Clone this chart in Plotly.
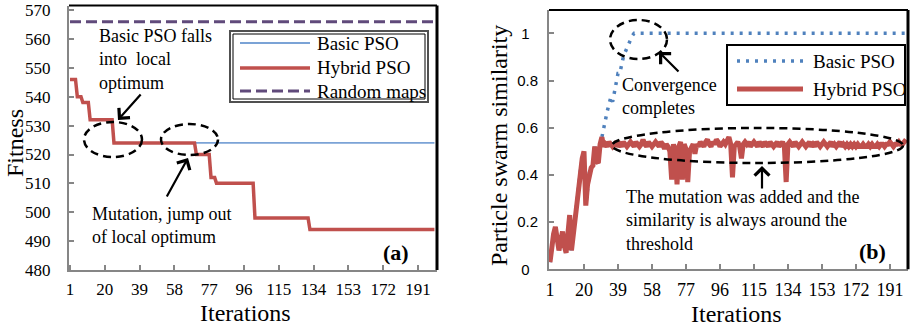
import plotly.graph_objects as go

W, H = 910, 328

# ---------------- data ----------------
iterations = list(range(1, 201))
x_tick_vals = [1, 20, 39, 58, 77, 96, 115, 134, 153, 172, 191]
x_tick_text = [str(v) for v in x_tick_vals]

# (a) fitness: step levels and the last iteration at which each level holds
hybrid_fit_levels = [546, 540, 538, 532, 524, 520, 512, 510, 498, 494]
hybrid_fit_last_iter = [4, 7, 11, 24, 69, 77, 80, 101, 131, 200]
basic_fit_levels = [546, 540, 538, 532, 524]
basic_fit_last_iter = [4, 7, 11, 24, 200]
random_fit_levels = [566]
random_fit_last_iter = [200]
fit_ticks = [480, 490, 500, 510, 520, 530, 540, 550, 560, 570]

# (b) particle swarm similarity
hybrid_sim = [
    0.03, 0.10, 0.15, 0.18, 0.12, 0.08, 0.12, 0.16, 0.10, 0.07,
    0.15, 0.23, 0.08, 0.15, 0.22, 0.30, 0.36, 0.42, 0.47, 0.50,
    0.27, 0.36, 0.41, 0.43, 0.44, 0.52, 0.46, 0.45, 0.53, 0.56,
    0.52, 0.53, 0.52, 0.54, 0.53, 0.52, 0.53, 0.54, 0.52, 0.53,
    0.52, 0.54, 0.53, 0.52, 0.53, 0.54, 0.53, 0.52, 0.54, 0.53,
    0.52, 0.53, 0.55, 0.53, 0.52, 0.54, 0.53, 0.52, 0.53, 0.54,
    0.53, 0.52, 0.54, 0.53, 0.51, 0.53, 0.52, 0.50, 0.38, 0.53,
    0.50, 0.36, 0.52, 0.54, 0.38, 0.53, 0.51, 0.37, 0.50, 0.52,
    0.53, 0.49, 0.53, 0.52, 0.54, 0.53, 0.52, 0.54, 0.55, 0.53,
    0.52, 0.54, 0.53, 0.55, 0.54, 0.52, 0.53, 0.54, 0.53, 0.55,
    0.56, 0.53, 0.39, 0.52, 0.53, 0.54, 0.52, 0.47, 0.53, 0.54,
    0.53, 0.54, 0.52, 0.53, 0.54, 0.53, 0.52, 0.54, 0.53, 0.52,
    0.54, 0.53, 0.52, 0.54, 0.53, 0.52, 0.53, 0.54, 0.52, 0.53,
    0.54, 0.52, 0.37, 0.53, 0.54, 0.53, 0.52, 0.54, 0.53, 0.52,
    0.53, 0.54, 0.53, 0.52, 0.53, 0.54, 0.52, 0.53, 0.52, 0.54,
    0.53, 0.52, 0.53, 0.54, 0.53, 0.52, 0.53, 0.54, 0.52, 0.53,
    0.52, 0.53, 0.54, 0.52, 0.53, 0.52, 0.53, 0.52, 0.53, 0.52,
    0.53, 0.52, 0.53, 0.52, 0.52, 0.53, 0.52, 0.52, 0.53, 0.52,
    0.53, 0.52, 0.52, 0.53, 0.52, 0.53, 0.53, 0.52, 0.53, 0.53,
    0.54, 0.53, 0.52, 0.53, 0.53, 0.54, 0.53, 0.53, 0.54, 0.55,
]
# basic PSO coincides with hybrid up to iteration 29, then rises (iters 30-47) and stays at 1
basic_sim_rise = [0.56, 0.60, 0.64, 0.67, 0.70, 0.73, 0.71, 0.75, 0.78,
                  0.83, 0.83, 0.87, 0.90, 0.92, 0.94, 0.96, 0.98, 0.99]
basic_sim_plateau = 1.0
basic_sim = hybrid_sim[:29] + basic_sim_rise + [basic_sim_plateau] * (200 - 29 - len(basic_sim_rise))
sim_ticks = [0, 0.2, 0.4, 0.6, 0.8, 1]
sim_tick_text = ["0\u00a0\u00a0", "0.2", "0.4", "0.6", "0.8", "1\u00a0\u00a0"]


def expand(levels, last_iters):
    out, start = [], 1
    for lv, end in zip(levels, last_iters):
        out += [lv] * (end - start + 1)
        start = end + 1
    return out


hybrid_fit = expand(hybrid_fit_levels, hybrid_fit_last_iter)
basic_fit = expand(basic_fit_levels, basic_fit_last_iter)
random_fit = expand(random_fit_levels, random_fit_last_iter)

# ---------------- styles ----------------
SERIF = "Liberation Serif"
SANS = "Liberation Sans"
C_BASIC_A = "#7BA3D6"
C_HYB = "#C0504D"
C_RAND = "#604A7B"
C_BASIC_B = "#4F81BD"
AXIS_GRAY = "#868686"


def px(x):
    return x / W


def py(y):
    return 1 - y / H


fig = go.Figure()

styles_a = {
    "Basic PSO": dict(color=C_BASIC_A, width=1.8),
    "Hybrid PSO": dict(color=C_HYB, width=3.5),
    "Random maps": dict(color=C_RAND, width=3, dash="11px,5px"),
}
styles_b = {
    "Basic PSO": dict(color=C_BASIC_B, width=3.5, dash="3px,6px"),
    "Hybrid PSO": dict(color=C_HYB, width=5),
}

for name, ys in [("Basic PSO", basic_fit), ("Hybrid PSO", hybrid_fit), ("Random maps", random_fit)]:
    fig.add_trace(go.Scatter(x=iterations, y=ys, mode="lines", name=name,
                             line=styles_a[name], xaxis="x", yaxis="y", showlegend=False))
for name, ys in [("Basic PSO", basic_sim), ("Hybrid PSO", hybrid_sim)]:
    fig.add_trace(go.Scatter(x=iterations, y=ys, mode="lines", name=name,
                             line=styles_b[name], xaxis="x2", yaxis="y2", showlegend=False))

# plot-area pixel boxes
A = dict(l=69, r=437, t=5.5, b=270)
B = dict(l=549, r=908, t=10, b=269.3)

common_axis = dict(showgrid=False, zeroline=False, showline=True, linecolor=AXIS_GRAY,
                   linewidth=2, ticks="inside", ticklen=5, tickwidth=1.5, tickcolor=AXIS_GRAY,
                   automargin=False)

fig.update_layout(
    template="none",
    width=W, height=H, margin=dict(l=0, r=0, t=0, b=0, autoexpand=False),
    paper_bgcolor="white", plot_bgcolor="white",
    xaxis=dict(domain=[px(A["l"]), px(A["r"])], range=[0.45, 201.4], anchor="y",
               tickmode="array", tickvals=x_tick_vals, ticktext=x_tick_text,
               tickfont=dict(family=SERIF, size=17, color="black"), ticklabelstandoff=3,
               **common_axis),
    yaxis=dict(domain=[py(A["b"]), py(A["t"])], range=[480, 571.6], anchor="x",
               tickmode="array", tickvals=fit_ticks, ticktext=[str(v) for v in fit_ticks],
               tickfont=dict(family=SERIF, size=17, color="black"), ticklabelstandoff=13,
               **common_axis),
    xaxis2=dict(domain=[px(B["l"]), px(B["r"])], range=[0.44, 201.1], anchor="y2",
                tickmode="array", tickvals=x_tick_vals, ticktext=x_tick_text,
                tickfont=dict(family=SERIF, size=18, color="black"), ticklabelstandoff=3,
                **common_axis),
    yaxis2=dict(domain=[py(B["b"]), py(B["t"])], range=[0, 1.099], anchor="x2",
                tickmode="array", tickvals=sim_ticks, ticktext=sim_tick_text,
                tickfont=dict(family=SANS, size=15, color="black"), ticklabelstandoff=6,
                **common_axis),
)

shapes = []
# black top / right borders of both plot areas
for box in (A, B):
    shapes.append(dict(type="line", xref="paper", yref="paper", x0=px(box["l"]), x1=px(box["r"]),
                       y0=py(box["t"]), y1=py(box["t"]), line=dict(color="black", width=2)))
    shapes.append(dict(type="line", xref="paper", yref="paper", x0=px(box["r"]), x1=px(box["r"]),
                       y0=py(box["b"]), y1=py(box["t"]), line=dict(color="black", width=3)))

# dashed ellipses (pixel boxes)
ellipses = [(84, 122, 142, 157), (161, 124, 218, 155), (610, 20, 667, 59), (612, 128, 903, 163)]
for x0, y0, x1, y1 in ellipses:
    shapes.append(dict(type="circle", xref="paper", yref="paper", x0=px(x0), x1=px(x1),
                       y0=py(y1), y1=py(y0), line=dict(color="black", width=2.5, dash="8px,5px")))

# legend boxes
shapes.append(dict(type="rect", xref="paper", yref="paper", x0=px(230), x1=px(428), y0=py(102), y1=py(31),
                   line=dict(color="#505050", width=2), fillcolor="white"))
shapes.append(dict(type="rect", xref="paper", yref="paper", x0=px(233), x1=px(425), y0=py(99), y1=py(34),
                   line=dict(color="black", width=1)))
shapes.append(dict(type="rect", xref="paper", yref="paper", x0=px(727), x1=px(905), y0=py(105), y1=py(45),
                   line=dict(color="black", width=2), fillcolor="white"))

annotations = []


def text_at(x, y, text, size, xanchor="center", yanchor="middle", **kw):
    annotations.append(dict(x=px(x), y=py(y), xref="paper", yref="paper", text=text, showarrow=False,
                            xanchor=xanchor, yanchor=yanchor,
                            font=dict(family=SERIF, size=size, color="black"), **kw))


legend_a_rows = [("Basic PSO", 43), ("Hybrid PSO", 68), ("Random maps", 91)]
for name, yy in legend_a_rows:
    st = styles_a[name]
    shapes.append(dict(type="line", xref="paper", yref="paper", x0=px(240), x1=px(310), y0=py(yy), y1=py(yy),
                       line=dict(color=st["color"], width=st["width"], dash=st.get("dash", "solid"))))
    text_at(315, yy, name, 19, xanchor="left")
legend_b_rows = [("Basic PSO", 61), ("Hybrid PSO", 89)]
for name, yy in legend_b_rows:
    st = styles_b[name]
    shapes.append(dict(type="line", xref="paper", yref="paper", x0=px(737), x1=px(803), y0=py(yy), y1=py(yy),
                       line=dict(color=st["color"], width=st["width"], dash=st.get("dash", "solid"))))
    text_at(811, yy, name, 19, xanchor="left")

fig.update_layout(shapes=shapes)

# text notes
notes = [
    ("Basic PSO falls<br>into\u00a0 local<br>optimum", 97, 60),
    ("Mutation, jump out<br>of local optimum", 90, 226),
    ("Convergence<br>completes", 620, 97),
    ("The mutation was added and the<br>similarity is always around the<br>threshold", 624, 220),
]
for txt, xx, yy in notes:
    text_at(xx, yy, txt, 18, xanchor="left", align="left")

# arrows: head (x, y), tail (x, y)
arrows = [((118, 120), (142, 93)), ((188, 158), (166, 198)), ((659, 52), (680, 73)), ((762, 166), (762, 190))]
for (hx, hy), (tx, ty) in arrows:
    annotations.append(dict(x=px(hx), y=py(hy), xref="paper", yref="paper", text="", showarrow=True,
                            ax=tx - hx, ay=ty - hy, arrowhead=4, arrowsize=1.3, arrowwidth=2.2,
                            arrowcolor="black", standoff=0, startstandoff=0))

# panel labels
text_at(396, 252, "<b>(a)</b>", 22)
text_at(872, 251, "<b>(b)</b>", 22)

# axis titles
text_at(245, 313, "Iterations", 24)
text_at(736, 314, "Iterations", 24)
text_at(15, 143, "Fitness", 24, textangle=-90)
text_at(499, 146, "Particle swarm similarity", 24, textangle=-90)

fig.update_layout(annotations=annotations)

fig.write_html(
    "out.html",
    config={"displayModeBar": False},
    post_script="document.body.style.margin='0px';document.body.style.overflow='hidden';",
)
